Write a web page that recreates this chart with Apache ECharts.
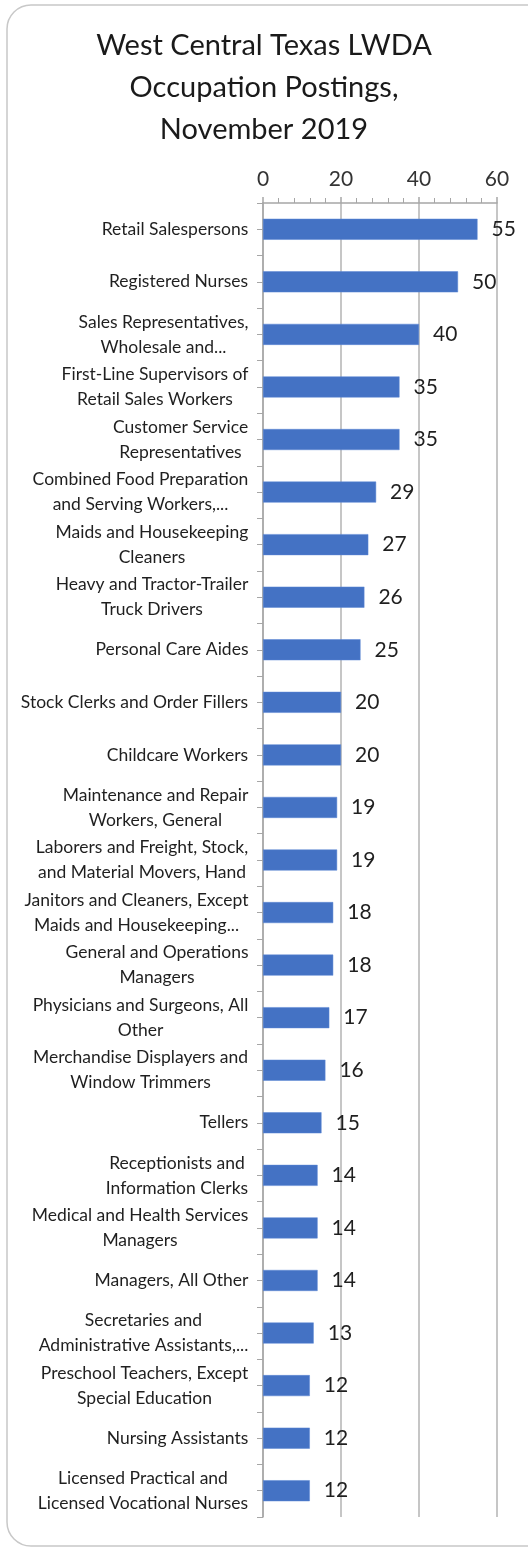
<!DOCTYPE html>
<html>
<head>
<meta charset="utf-8">
<script src="https://cdn.jsdelivr.net/npm/echarts@6/dist/echarts.min.js"></script>
<style>
html,body{margin:0;padding:0;background:#fff;}
#main{width:528px;height:1549px;}
</style>
</head>
<body>
<div id="main"></div>
<script>
var titleLines = ['West Central Texas LWDA', 'Occupation Postings,', 'November 2019'];
var occupations = [
	'Retail Salespersons',
	'Registered Nurses',
	'Sales Representatives,\nWholesale and...',
	'First-Line Supervisors of\nRetail Sales Workers',
	'Customer Service\nRepresentatives',
	'Combined Food Preparation\nand Serving Workers,...',
	'Maids and Housekeeping\nCleaners',
	'Heavy and Tractor-Trailer\nTruck Drivers',
	'Personal Care Aides',
	'Stock Clerks and Order Fillers',
	'Childcare Workers',
	'Maintenance and Repair\nWorkers, General',
	'Laborers and Freight, Stock,\nand Material Movers, Hand',
	'Janitors and Cleaners, Except\nMaids and Housekeeping...',
	'General and Operations\nManagers',
	'Physicians and Surgeons, All\nOther',
	'Merchandise Displayers and\nWindow Trimmers',
	'Tellers',
	'Receptionists and\nInformation Clerks',
	'Medical and Health Services\nManagers',
	'Managers, All Other',
	'Secretaries and\nAdministrative Assistants,...',
	'Preschool Teachers, Except\nSpecial Education',
	'Nursing Assistants',
	'Licensed Practical and\nLicensed Vocational Nurses'
];
var postings = [55, 50, 40, 35, 35, 29, 27, 26, 25, 20, 20, 19, 19, 18, 18, 17, 16, 15, 14, 14, 14, 13, 12, 12, 12];
var xTicks = [0, 20, 40, 60];

var fontName = 'Lato';
var labelSize = 17.5;

/*每个标签的宽度，多行居中*/
var ctx = document.createElement('canvas').getContext('2d');
ctx.font = labelSize + 'px ' + fontName;
var rich = {};
for (var i = 0; i < occupations.length; i++) {
	var w = 0;
	occupations[i].split('\n').forEach(function (l) {
		w = Math.max(w, ctx.measureText(l).width);
	});
	rich['r' + i] = {
		width: Math.ceil(w) + 1,
		align: 'center',
		fontSize: labelSize,
		fontFamily: fontName,
		lineHeight: 25,
		color: '#1f1f1f'
	};
}

var myChart = echarts.init(document.getElementById('main'));
var option = {
	backgroundColor: '#fff',
	animation: false,
	title: {
		text: titleLines.join('\n'),
		left: 'center',
		top: 20,
		textStyle: {
			fontFamily: fontName,
			fontWeight: 'normal',
			fontSize: 29,
			lineHeight: 42,
			color: '#1a1a1a'
		}
	},
	/*外框，右边超出画面*/
	graphic: [{
		type: 'rect',
		silent: true,
		shape: { x: 7, y: 5, width: 550, height: 1541, r: 24 },
		style: { fill: 'none', stroke: '#c8c8c8', lineWidth: 1.5 }
	}],
	grid: { left: 263, right: 31, top: 203, bottom: 32 },
	xAxis: {
		type: 'value',
		position: 'top',
		min: xTicks[0],
		max: xTicks[xTicks.length - 1],
		interval: 20,
		axisLine: { show: true, lineStyle: { color: '#a6a6a6', width: 1.5 } },
		axisTick: { show: true, length: 6, lineStyle: { color: '#a6a6a6', width: 1.5 } },
		minorTick: { show: true, splitNumber: 5, length: 5, lineStyle: { color: '#a6a6a6', width: 1 } },
		splitLine: { show: true, lineStyle: { color: '#b3b3b3', width: 1.5 } },
		axisLabel: { fontSize: 21, fontFamily: fontName, color: '#333', margin: 13 }
	},
	yAxis: [{
		type: 'category',
		inverse: true,
		data: occupations,
		axisLine: { show: true, lineStyle: { color: '#a6a6a6', width: 1.5 } },
		axisTick: { show: true, alignWithLabel: true, length: 6, lineStyle: { color: '#a6a6a6' } },
		axisLabel: {
			margin: 14,
			interval: 0,
			formatter: function (value, index) {
				return value.split('\n').map(function (l) {
					return '{r' + index + '|' + l + '}';
				}).join('\n');
			},
			rich: rich
		}
	}, {
		/*类目分界处的刻度*/
		type: 'category',
		inverse: true,
		position: 'left',
		data: occupations,
		axisLine: { show: false },
		axisTick: { show: true, length: 6, lineStyle: { color: '#a6a6a6' } },
		axisLabel: { show: false },
		splitLine: { show: false }
	}],
	series: [{
		type: 'bar',
		yAxisIndex: 0,
		data: postings,
		barWidth: 21,
		itemStyle: { color: '#4472C4', borderColor: '#5b86d4', borderWidth: 0.5 },
		label: {
			show: true,
			position: 'right',
			distance: 14,
			fontSize: 21,
			fontFamily: fontName,
			color: '#1f1f1f'
		}
	}]
};
myChart.setOption(option);
</script>
</body>
</html>
